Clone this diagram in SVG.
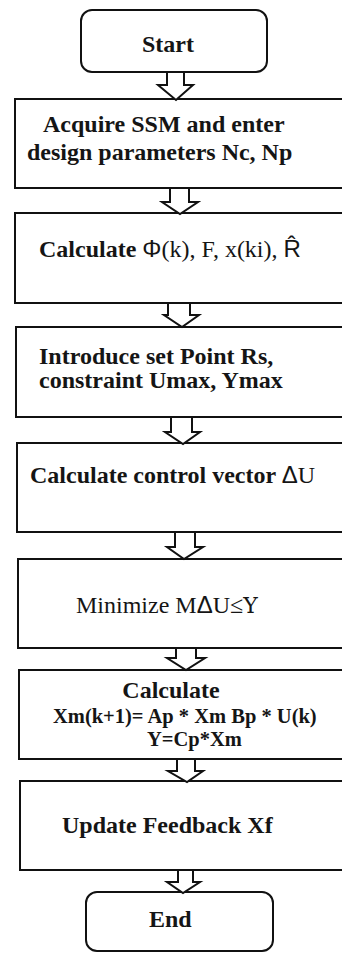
<svg xmlns="http://www.w3.org/2000/svg" width="342" height="953" viewBox="0 0 342 953">
  <style>
    .box { fill: #ffffff; stroke: #111111; stroke-width: 2; }
    .arrow { fill: #ffffff; stroke: #111111; stroke-width: 2; stroke-linejoin: miter; }
    .t { font-family: "Liberation Serif", "Times New Roman", serif; fill: #151515; font-size: 24px; }
    .b { font-weight: bold; }
    .sans { font-family: "Liberation Sans", Arial, sans-serif; font-weight: normal; }
    .greek { font-family: "DejaVu Serif", serif; font-size: 22px; }
    .small { font-size: 20.5px; }
  </style>
  <rect width="342" height="953" fill="#ffffff"/>

  <g id="start">
    <rect class="box" x="81" y="10" width="186" height="62" rx="11"/>
    <text class="t b" x="142" y="52">Start</text>
  </g>

  <g id="acquire">
    <rect class="box" x="15" y="99" width="340" height="89"/>
    <text class="t b" x="43" y="132">Acquire SSM and enter</text>
    <text class="t b" x="27" y="160">design parameters Nc, Np</text>
  </g>

  <g id="calc-phi">
    <rect class="box" x="15" y="213" width="340" height="90"/>
    <text class="t" x="39" y="257"><tspan class="b">Calculate </tspan><tspan class="sans">Φ</tspan>(k), F, x(ki), <tspan class="sans">R̂</tspan></text>
  </g>

  <g id="setpoint">
    <rect class="box" x="16" y="327" width="340" height="90"/>
    <text class="t b" x="39" y="364">Introduce set Point Rs,</text>
    <text class="t b" x="39" y="388">constraint Umax, Ymax</text>
  </g>

  <g id="control-vector">
    <rect class="box" x="17" y="443" width="340" height="89"/>
    <text class="t" x="30" y="483"><tspan class="b">Calculate control vector </tspan><tspan class="sans">Δ</tspan>U</text>
  </g>

  <g id="minimize">
    <rect class="box" x="18" y="559" width="340" height="89"/>
    <text class="t" x="76" y="613">Minimize M<tspan class="sans">Δ</tspan>U≤<tspan class="greek">Υ</tspan></text>
  </g>

  <g id="model">
    <rect class="box" x="19" y="670" width="340" height="89"/>
    <text class="t b" x="171" y="698" text-anchor="middle">Calculate</text>
    <text class="t b small" x="53" y="723">Xm(k+1)= Ap * Xm Bp * U(k)</text>
    <text class="t b small" x="147" y="746">Y=Cp*Xm</text>
  </g>

  <g id="feedback">
    <rect class="box" x="20" y="781" width="340" height="89"/>
    <text class="t b" x="62" y="833">Update Feedback Xf</text>
  </g>

  <g id="end">
    <rect class="box" x="86" y="892" width="187" height="59" rx="11"/>
    <text class="t b" x="149" y="927">End</text>
  </g>

  <!-- hollow block arrows between steps -->
  <g id="connectors">
    <polygon class="arrow" points="167,72 184,72 184,85 193,85 176,100 158,85 167,85"/>
    <polygon class="arrow" points="170,188 189,188 189,202 198,202 180,214 162,202 170,202"/>
    <polygon class="arrow" points="168,303 190,303 190,315 199,315 182,327 164,315 168,315"/>
    <polygon class="arrow" points="171,417 192,417 192,432 200,432 183,444 165,432 171,432"/>
    <polygon class="arrow" points="175,532 195,532 195,547 203,547 184,559 167,547 175,547"/>
    <polygon class="arrow" points="176,648 196,648 196,658 205,658 186,670 167,658 176,658"/>
    <polygon class="arrow" points="177,759 195,759 195,771 203,771 187,782 168,771 177,771"/>
    <polygon class="arrow" points="178,870 193,870 193,882 200,882 183,893 167,882 178,882"/>
  </g>
</svg>
